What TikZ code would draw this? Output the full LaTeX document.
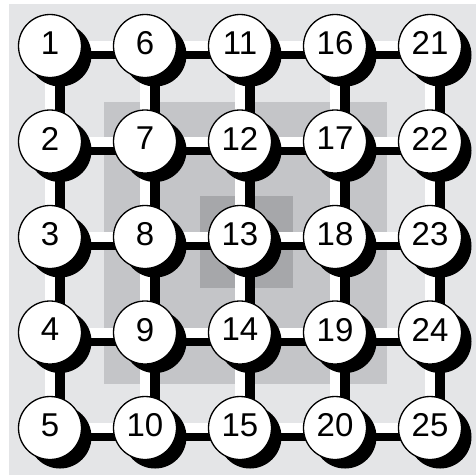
\documentclass[tikz,border=0pt]{standalone}
\usepackage{fontspec}
\setmainfont{Liberation Sans}
\usetikzlibrary{shadows}
\definecolor{bglight}{HTML}{E4E5E7}
\definecolor{bgmid}{HTML}{C4C5C8}
\definecolor{bgdark}{HTML}{A6A7AA}
\begin{document}
\begin{tikzpicture}[x=1pt,y=-1pt,
  barshadow/.style={line width=10pt,black},
  barwhite/.style={line width=10pt,white},
  circ/.style={circle,draw=black,line width=1.3pt,fill=white,minimum size=63pt,inner sep=0pt,
    font=\fontsize{33pt}{33pt}\selectfont,text depth=6pt,
    drop shadow={shadow xshift=10pt,shadow yshift=-9pt,fill=black,opacity=1,shadow scale=1}}]
\useasboundingbox (0,0) rectangle (476,475);
\fill[bglight] (9,4) rectangle (476,475);
\fill[bgmid] (104,102) rectangle (387,384);
\fill[bgdark] (200,196) rectangle (293,288);
\foreach \i in {0,...,4}{
  \foreach \j in {0,...,4}{
    \pgfmathtruncatemacro{\n}{5*\i+\j+1}
    \coordinate (c\n) at ({50+95*\i},{46+95.5*\j});
  }
}
% bar shadows
\foreach \i in {0,...,4}{
  \foreach \j in {0,...,4}{
    \pgfmathtruncatemacro{\n}{5*\i+\j+1}
    \pgfmathtruncatemacro{\r}{\n+5}
    \pgfmathtruncatemacro{\d}{\n+1}
    \ifnum\i<4 \draw[barshadow] ([shift={(10,8)}]c\n) -- ([shift={(10,8)}]c\r); \fi
    \ifnum\j<4 \draw[barshadow] ([shift={(10,8)}]c\n) -- ([shift={(10,8)}]c\d); \fi
  }
}
% white bars
\foreach \i in {0,...,4}{
  \foreach \j in {0,...,4}{
    \pgfmathtruncatemacro{\n}{5*\i+\j+1}
    \pgfmathtruncatemacro{\r}{\n+5}
    \pgfmathtruncatemacro{\d}{\n+1}
    \ifnum\i<4 \draw[barwhite] (c\n) -- (c\r); \fi
    \ifnum\j<4 \draw[barwhite] (c\n) -- (c\d); \fi
  }
}
% nodes
\foreach \n in {1,...,25}{
  \node[circ] (n\n) at (c\n) {\n};
}
\end{tikzpicture}
\end{document}
